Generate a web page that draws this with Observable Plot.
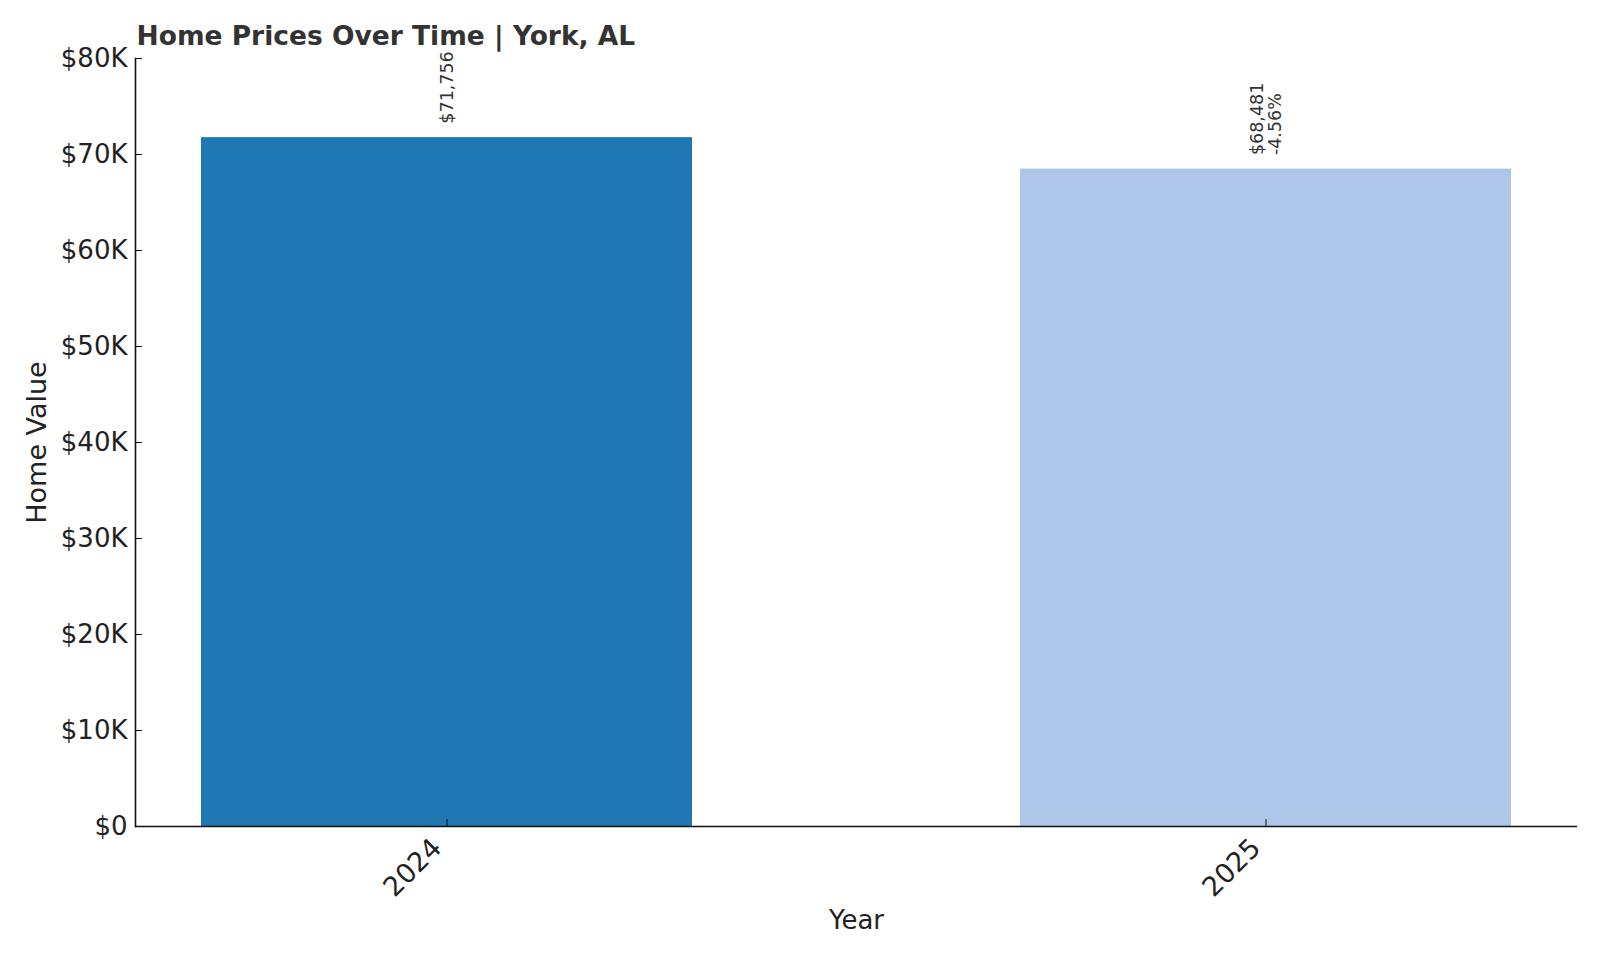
<!DOCTYPE html>
<html>
<head>
<meta charset="utf-8">
<script src="https://cdn.jsdelivr.net/npm/d3@7"></script>
<script src="https://cdn.jsdelivr.net/npm/@observablehq/plot@0.6"></script>
<style>
  html, body { margin: 0; padding: 0; background: #fff; }
  #chart svg { display: block; }
</style>
</head>
<body>
<div id="chart"></div>
<script>
const years = ["2024", "2025"];
const values = [71756, 68481];
const colors = ["#1f77b4", "#aec7e8"];
const yTicks = [0, 10000, 20000, 30000, 40000, 50000, 60000, 70000, 80000];
const titleText = "Home Prices Over Time | York, AL";
const xLabel = "Year";
const yLabel = "Home Value";

const fmtMoney = d3.format("$,.0f");
const data = years.map((y, i) => {
  let label = fmtMoney(values[i]);
  if (i > 0) {
    const pct = (values[i] - values[i - 1]) / values[i - 1] * 100;
    label += "\n" + pct.toFixed(2) + "%";
  }
  return {year: y, value: values[i], color: colors[i], label};
});

const font = "DejaVu Sans, sans-serif";

const chart = Plot.plot({
  width: 1600,
  height: 960,
  marginLeft: 135,
  marginRight: 23,
  marginTop: 58,
  marginBottom: 134,
  style: {fontFamily: font, background: "#fff", color: "#222"},
  x: {domain: years, paddingInner: 0.4, paddingOuter: 0.08, label: null},
  y: {domain: [0, 80000], label: null},
  marks: [
    Plot.barY(data, {x: "year", y: "value", fill: "color"}),
    Plot.ruleY([0], {stroke: "#111", strokeWidth: 1.6}),
    Plot.frame({anchor: "left", stroke: "#111", strokeWidth: 1.6}),
    Plot.axisY({
      ticks: yTicks,
      tickFormat: d => d === 0 ? "$0" : "$" + (d / 1000) + "K",
      tickSize: -7,
      tickPadding: 15,
      fontSize: 26,
      label: null,
      stroke: "#111"
    }),
    Plot.axisX({
      tickSize: -7,
      text: null,
      label: null,
      stroke: "#111"
    }),
    Plot.axisX({
      tickRotate: -45,
      tickSize: 0,
      tickPadding: 17,
      dx: -10,
      fontSize: 27,
      label: null
    }),
    Plot.text(data, {
      x: "year", y: "value", text: "label",
      rotate: -90, textAnchor: "start", lineAnchor: "middle",
      dy: -14, fontSize: 17.5, lineHeight: 1.05, fill: "#333"
    }),
    Plot.text([titleText], {
      frameAnchor: "top-left", textAnchor: "start", lineAnchor: "bottom",
      dx: 1, dy: -14, fontSize: 26.5, fontWeight: "bold", fill: "#333"
    }),
    Plot.text([yLabel], {
      frameAnchor: "left", rotate: -90, textAnchor: "middle", lineAnchor: "middle",
      dx: -98, fontSize: 27, fill: "#222"
    }),
    Plot.text([xLabel], {
      frameAnchor: "bottom", textAnchor: "middle", lineAnchor: "middle",
      dy: 94, fontSize: 26, fill: "#222"
    })
  ]
});
document.getElementById("chart").appendChild(chart);
</script>
</body>
</html>
